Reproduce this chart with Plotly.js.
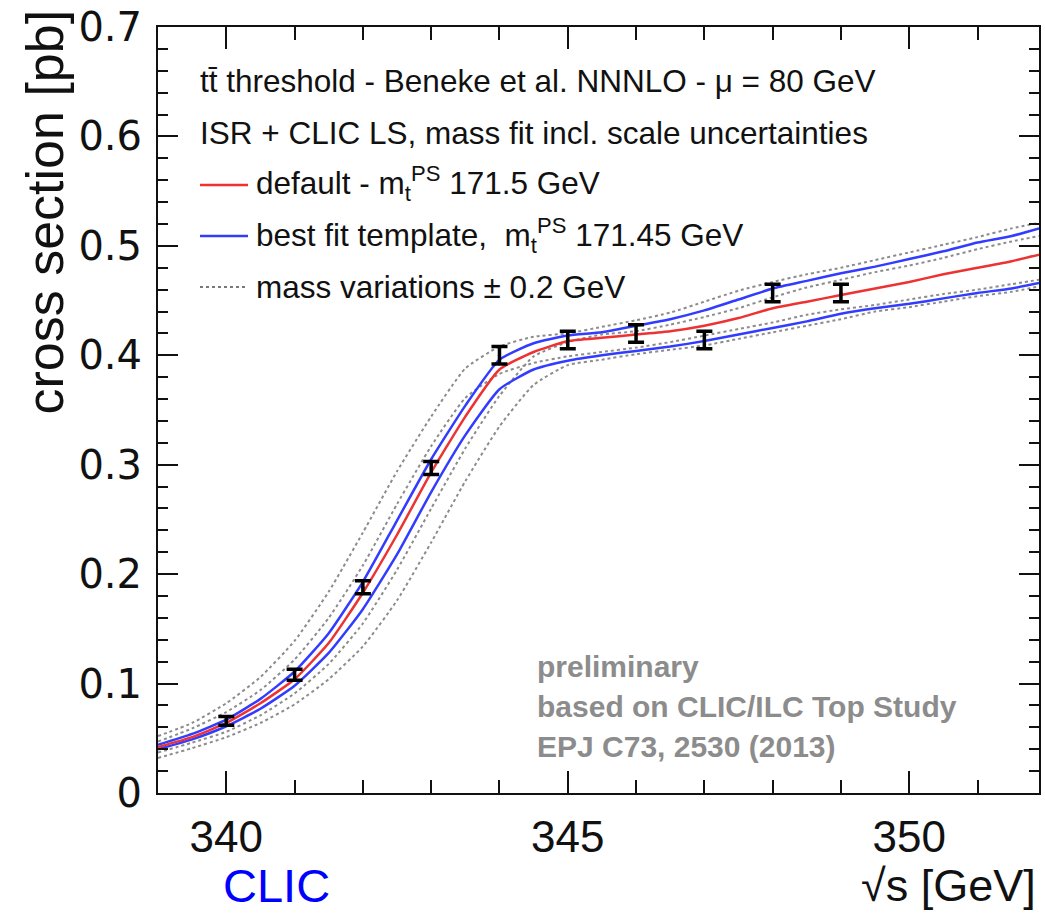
<!DOCTYPE html>
<html>
<head>
<meta charset="utf-8">
<script src="https://cdn.plot.ly/plotly-3.0.1.min.js"></script>
<style>html,body{margin:0;padding:0;background:#fff;}#chart{width:1045px;height:914px;}</style>
</head>
<body>
<div id="chart"></div>
<script>
// ---- data ----
const sqrtS = [339, 339.5, 340, 340.5, 341, 341.5, 342, 342.5, 343, 343.5, 344, 344.5, 345, 345.5, 346, 346.5, 347, 347.5, 348, 348.5, 349, 349.5, 350, 350.5, 351, 351.5, 351.9];

const defaultCurve = [0.042, 0.051, 0.064, 0.082, 0.104, 0.137, 0.183, 0.236, 0.293, 0.344, 0.387, 0.403, 0.413, 0.416, 0.419, 0.422, 0.427, 0.434, 0.443, 0.449, 0.455, 0.461, 0.467, 0.474, 0.480, 0.486, 0.492];
const bestFitUpper = [0.044, 0.054, 0.067, 0.086, 0.111, 0.146, 0.193, 0.249, 0.305, 0.354, 0.396, 0.411, 0.418, 0.421, 0.427, 0.433, 0.441, 0.451, 0.461, 0.468, 0.475, 0.481, 0.488, 0.495, 0.503, 0.509, 0.516];
const bestFitLower = [0.040, 0.049, 0.061, 0.077, 0.098, 0.128, 0.168, 0.218, 0.275, 0.327, 0.369, 0.387, 0.395, 0.400, 0.404, 0.408, 0.413, 0.419, 0.425, 0.431, 0.438, 0.443, 0.447, 0.452, 0.457, 0.461, 0.466];
const massVarUpperMinus = [0.052, 0.064, 0.082, 0.106, 0.139, 0.184, 0.238, 0.294, 0.344, 0.388, 0.408, 0.417, 0.420, 0.426, 0.432, 0.439, 0.449, 0.459, 0.467, 0.474, 0.480, 0.487, 0.494, 0.501, 0.508, 0.516, 0.521];
const massVarUpperPlus = [0.037, 0.046, 0.056, 0.071, 0.091, 0.118, 0.155, 0.204, 0.260, 0.315, 0.363, 0.399, 0.412, 0.419, 0.422, 0.428, 0.435, 0.443, 0.453, 0.462, 0.469, 0.476, 0.482, 0.489, 0.497, 0.504, 0.509];
const massVarLowerMinus = [0.047, 0.059, 0.074, 0.094, 0.122, 0.160, 0.208, 0.264, 0.317, 0.361, 0.383, 0.393, 0.399, 0.403, 0.407, 0.412, 0.418, 0.424, 0.430, 0.437, 0.442, 0.446, 0.451, 0.456, 0.460, 0.465, 0.469];
const massVarLowerPlus = [0.032, 0.041, 0.051, 0.064, 0.081, 0.104, 0.134, 0.176, 0.229, 0.285, 0.335, 0.373, 0.391, 0.396, 0.401, 0.405, 0.409, 0.415, 0.421, 0.427, 0.433, 0.440, 0.444, 0.449, 0.454, 0.458, 0.463];

const pointX = [340, 341, 342, 343, 344, 345, 346, 347, 348, 349];
const pointY = [0.066, 0.108, 0.188, 0.297, 0.400, 0.414, 0.420, 0.414, 0.457, 0.457];
const pointErr = [0.004, 0.005, 0.006, 0.006, 0.008, 0.008, 0.008, 0.008, 0.008, 0.008];

const xTickVals = [340, 345, 350];
const yTickVals = [0, 0.1, 0.2, 0.3, 0.4, 0.5, 0.6, 0.7];
const yTickText = ['0', '0.1', '0.2', '0.3', '0.4', '0.5', '0.6', '0.7'];

// ---- layout geometry (pixels) ----
const W = 1045, H = 914;
const M = {l: 158, r: 6, t: 27, b: 121};
const PW = W - M.l - M.r, PH = H - M.t - M.b;
const px = x => (x - M.l) / PW;
const py = y => (H - M.b - y) / PH;

const SANS = '"Liberation Sans", Arial, sans-serif';

const dotStyle = {color: 'rgb(140,140,140)', width: 2, dash: 'dot'};
const redStyle = {color: 'rgb(238,50,50)', width: 2.5};
const blueStyle = {color: 'rgb(50,60,255)', width: 2.5};

function curve(y, line) {
  return {x: sqrtS, y: y, type: 'scatter', mode: 'lines', line: Object.assign({shape: 'spline', smoothing: 0.5}, line), hoverinfo: 'skip', showlegend: false};
}

const traces = [
  curve(massVarUpperMinus, dotStyle),
  curve(massVarUpperPlus, dotStyle),
  curve(massVarLowerMinus, dotStyle),
  curve(massVarLowerPlus, dotStyle),
  curve(bestFitUpper, blueStyle),
  curve(bestFitLower, blueStyle),
  curve(defaultCurve, redStyle),
  {
    x: pointX, y: pointY, type: 'scatter', mode: 'markers',
    marker: {size: 3, color: 'black'},
    error_y: {type: 'data', array: pointErr, visible: true, color: 'black', thickness: 3.5, width: 8},
    showlegend: false
  }
];

const legendFont = {family: SANS, size: 31.5, color: '#111'};
const annotations = [
  {text: 't t\u0304 threshold - Beneke et al. NNNLO - \u03bc = 80 GeV'.replace('t t', 'tt'), x: px(198), y: py(81)},
  {text: 'ISR + CLIC LS, mass fit incl. scale uncertainties', x: px(198), y: py(133)},
  {text: 'default - m<sub>t</sub><sup>PS</sup> 171.5 GeV', x: px(254), y: py(184)},
  {text: 'best fit template,  m<sub>t</sub><sup>PS</sup> 171.45 GeV', x: px(254), y: py(235)},
  {text: 'mass variations \u00b1 0.2 GeV', x: px(254), y: py(287)}
].map(a => Object.assign({xref: 'paper', yref: 'paper', xanchor: 'left', yanchor: 'middle', showarrow: false, font: legendFont}, a));

const grayFont = {family: SANS, size: 30, color: 'rgb(140,140,140)'};
['<b>preliminary</b>', '<b>based on CLIC/ILC Top Study</b>', '<b>EPJ C73, 2530 (2013)</b>'].forEach((t, i) => {
  annotations.push({text: t, xref: 'paper', yref: 'paper', x: px(535), y: py(666 + i * 40), xanchor: 'left', yanchor: 'middle', showarrow: false, font: grayFont});
});

annotations.push({text: 'cross section [pb]', xref: 'paper', yref: 'paper', x: px(45), y: py(8), xanchor: 'center', yanchor: 'top', textangle: -90, showarrow: false, font: {family: SANS, size: 52, color: '#111'}});
annotations.push({text: '\u221as [GeV]', xref: 'paper', yref: 'paper', x: px(1038), y: py(885), xanchor: 'right', yanchor: 'middle', showarrow: false, font: {family: SANS, size: 45, color: '#111'}});
annotations.push({text: 'CLIC', xref: 'paper', yref: 'paper', x: px(221), y: py(885), xanchor: 'left', yanchor: 'middle', showarrow: false, font: {family: SANS, size: 47, color: 'rgb(0,0,255)'}});

const shapes = [
  {type: 'line', xref: 'paper', yref: 'paper', x0: px(200), x1: px(248), y0: py(185), y1: py(185), line: {color: redStyle.color, width: 2.5}},
  {type: 'line', xref: 'paper', yref: 'paper', x0: px(200), x1: px(248), y0: py(236), y1: py(236), line: {color: blueStyle.color, width: 2.5}},
  {type: 'line', xref: 'paper', yref: 'paper', x0: px(200), x1: px(248), y0: py(287), y1: py(287), line: {color: 'rgb(120,120,120)', width: 2, dash: 'dot'}}
];

const layout = {
  width: W, height: H,
  margin: M,
  paper_bgcolor: 'white', plot_bgcolor: 'white',
  showlegend: false,
  xaxis: {
    range: [339, 351.9], showgrid: false, zeroline: false,
    showline: true, linecolor: '#111', linewidth: 2, mirror: 'allticks',
    ticks: 'inside', ticklen: 22, tickwidth: 2, tickcolor: '#111',
    tickmode: 'array', tickvals: xTickVals, ticktext: xTickVals.map(String),
    minor: {dtick: 1, tick0: 339, ticks: 'inside', ticklen: 13, tickwidth: 2, tickcolor: '#111', showgrid: false},
    tickfont: {family: SANS, size: 44, color: '#111'},
    ticklabelstandoff: 4
  },
  yaxis: {
    range: [0, 0.7], showgrid: false, zeroline: false,
    showline: true, linecolor: '#111', linewidth: 2, mirror: 'allticks',
    ticks: 'inside', ticklen: 20, tickwidth: 2, tickcolor: '#111',
    tickmode: 'array', tickvals: yTickVals, ticktext: yTickText,
    minor: {dtick: 0.02, tick0: 0, ticks: 'inside', ticklen: 10, tickwidth: 2, tickcolor: '#111', showgrid: false},
    tickfont: {family: '"DejaVu Sans", sans-serif', size: 40, color: '#111'},
    ticklabelstandoff: 6
  },
  annotations: annotations,
  shapes: shapes
};

Plotly.newPlot('chart', traces, layout, {staticPlot: true, displayModeBar: false});
</script>
</body>
</html>
